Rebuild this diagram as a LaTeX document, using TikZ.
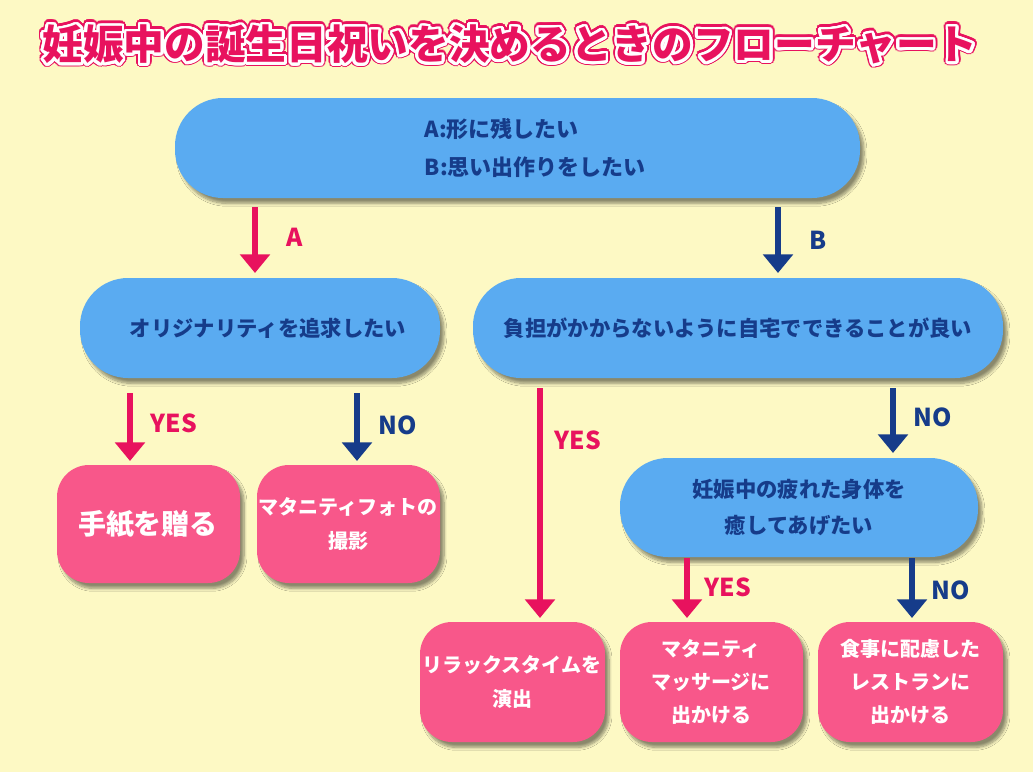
\documentclass[tikz,border=0pt]{standalone}
\usepackage{fontspec}
\setmainfont{Noto Sans CJK JP}[BoldFont={Noto Sans CJK JP Black}]
\usepackage{contour}
\contournumber{32}
\usetikzlibrary{shadows.blur,arrows.meta}
\definecolor{bg}{HTML}{FDF9C4}
\definecolor{bbox}{HTML}{5AABF1}
\definecolor{navy}{HTML}{163C8A}
\definecolor{pbox}{HTML}{F8578A}
\definecolor{parr}{HTML}{E8125E}
\newcommand{\ttltext}{妊娠中の誕生日祝いを決めるときのフローチャート}
\begin{document}
\begin{tikzpicture}[x=0.75pt,y=-0.75pt,
  shd/.style={blur shadow={shadow xshift=3pt,shadow yshift=-4pt,shadow opacity=45,shadow blur steps=8}},
  blue/.style={fill=bbox,rounded corners=36pt,shd,draw=none},
  pink/.style={fill=pbox,rounded corners=24pt,shd,draw=none},
  btxt/.style={text=navy,font=\bfseries\fontsize{16}{27}\selectfont,align=center},
  ptxt/.style={text=white,font=\bfseries\fontsize{15}{25}\selectfont,align=center},
  arr/.style={line width=5pt,-{Triangle[width=22pt,length=14pt]}},
  lab/.style={font=\bfseries\fontsize{18.5}{20}\selectfont},
  ttl/.style={font=\bfseries\fontsize{30.5}{32}\selectfont,text=parr}]
\fill[bg] (0,0) rectangle (1033,772);
\node[ttl] (title0) at (510,46) {\contourlength{3.4pt}\contour{parr}{\ttltext}};
\node[ttl] (title) at (510,46) {\contourlength{2pt}\contour{white}{\ttltext}};
% blue boxes
\path[blue] (175,98) rectangle (860,198);
\node[btxt,align=left,anchor=west,font=\bfseries\fontsize{16.5}{28}\selectfont] (top) at (420,148) {A:形に残したい\\B:思い出作りをしたい};
\path[blue] (80,278) rectangle (440,378);
\node[btxt] (orig) at (268,328) {オリジナリティを追求したい};
\path[blue] (473,278) rectangle (1003,378);
\node[btxt] (home) at (738,328) {負担がかからないように自宅でできることが良い};
\path[blue] (620,458) rectangle (978,557);
\node[btxt] (tired) at (799,507) {妊娠中の疲れた身体を\\癒してあげたい};
% pink boxes
\path[pink] (57,465) rectangle (240,583);
\node[ptxt,font=\bfseries\fontsize{21}{24}\selectfont] (letter) at (148,524) {手紙を贈る};
\path[pink] (257,465) rectangle (440,583);
\node[ptxt] (photo) at (348,524) {マタニティフォトの\\撮影};
\path[pink] (420,622) rectangle (605,742);
\node[ptxt] (relax) at (512,682) {リラックスタイムを\\演出};
\path[pink] (620,622) rectangle (803,742);
\node[ptxt] (mass) at (711,682) {マタニティ\\マッサージに\\出かける};
\path[pink] (818,622) rectangle (1003,742);
\node[ptxt] (rest) at (910,682) {食事に配慮した\\レストランに\\出かける};
% arrow endpoints
\coordinate (a1) at (255,207); \coordinate (a2) at (255,273);
\coordinate (b1) at (778,207); \coordinate (b2) at (778,273);
\coordinate (c1) at (130,393); \coordinate (c2) at (130,461);
\coordinate (d1) at (357,393); \coordinate (d2) at (357,461);
\coordinate (e1) at (540,388); \coordinate (e2) at (540,618);
\coordinate (f1) at (893,388); \coordinate (f2) at (893,453);
\coordinate (g1) at (687,558); \coordinate (g2) at (687,618);
\coordinate (h1) at (912,558); \coordinate (h2) at (912,618);
\draw[arr,parr] (a1) -- (a2);
\draw[arr,navy] (b1) -- (b2);
\draw[arr,parr] (c1) -- (c2);
\draw[arr,navy] (d1) -- (d2);
\draw[arr,parr] (e1) -- (e2);
\draw[arr,navy] (f1) -- (f2);
\draw[arr,parr] (g1) -- (g2);
\draw[arr,navy] (h1) -- (h2);
\node[lab,text=parr] (la) at (295,237) {A};
\node[lab,text=navy] (lb) at (818,240) {B};
\node[lab,text=parr] (lc) at (174,423) {YES};
\node[lab,text=navy] (ld) at (398,425) {NO};
\node[lab,text=parr] (le) at (578,440) {YES};
\node[lab,text=navy] (lf) at (933,417) {NO};
\node[lab,text=parr] (lg) at (728,587) {YES};
\node[lab,text=navy] (lh) at (951,590) {NO};
\end{tikzpicture}
\end{document}
